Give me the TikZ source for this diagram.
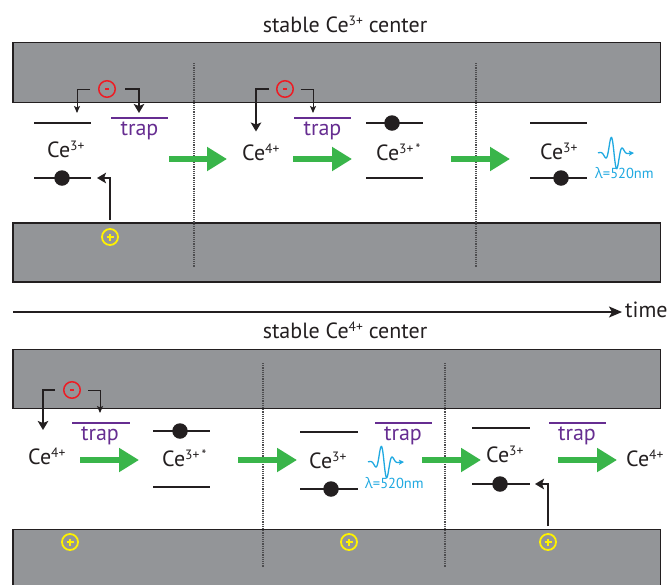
\documentclass[tikz,border=0pt]{standalone}
\usepackage{fontspec}
\setmainfont{PT Sans}
\newfontfamily\grk{Open Sans}
\usetikzlibrary{arrows.meta}
\definecolor{bandgray}{HTML}{939598}
\definecolor{ink}{HTML}{231F20}
\definecolor{sepgray}{HTML}{4D4D4F}
\definecolor{ered}{HTML}{ED1C24}
\definecolor{hyellow}{HTML}{FFF200}
\definecolor{trappurple}{HTML}{662D91}
\definecolor{agreen}{HTML}{39B54A}
\definecolor{wblue}{HTML}{1FA9E1}
\newcommand{\sps}[1]{\raisebox{7pt}{\fontsize{13.5}{14}\selectfont #1}}
\newcommand{\photon}[2]{%
  \draw[wave, -{Stealth[length=5pt,width=5pt,inset=1pt]}]
    plot[domain=0:32, samples=100] ({#1+\x}, {#2 + 18*exp(-((\x-16)/7.5)^2)*sin(30*(\x-16))})
    -- ({#1+36},{#2});}
\tikzset{
  band/.style={fill=bandgray, draw=ink, line width=1.1pt},
  sepline/.style={draw=sepgray, line width=1.1pt, dash pattern=on 1.1pt off 1.1pt},
  level/.style={draw=ink, line width=1.4pt},
  traplvl/.style={draw=trappurple, line width=1.6pt},
  elec/.style={circle, fill=ink, minimum size=15.5pt, inner sep=0pt},
  ecirc/.style={circle, draw=ered, line width=1.5pt, minimum size=16.5pt, inner sep=0pt},
  hcirc/.style={circle, draw=hyellow, line width=1.8pt, minimum size=16pt, inner sep=0pt},
  garrow/.style={draw=agreen, line width=5.5pt, -{Triangle[length=20pt,width=23pt]}},
  thinarr/.style={draw=ink, line width=1pt, -{Stealth[length=7pt,width=6pt,inset=1.5pt]}},
  thickarr/.style={draw=ink, line width=2.6pt, -{Stealth[length=9pt,width=10.5pt,inset=2pt]}},
  timearr/.style={draw=ink, line width=1.5pt, -{Stealth[length=13pt,width=11pt,inset=3pt]}},
  lbl/.style={inner sep=0pt, anchor=base west, font=\fontsize{22}{26}\selectfont, text=ink},
  ttl/.style={inner sep=0pt, anchor=base, font=\fontsize{22}{26}\selectfont, text=ink},
  traptxt/.style={inner sep=0pt, anchor=base, font=\fontsize{22}{26}\selectfont, text=trappurple},
  lamtxt/.style={inner sep=0pt, anchor=base west, font=\fontsize{14.5}{16}\selectfont, text=wblue},
  wave/.style={draw=wblue, line width=1.3pt},
}
\begin{document}
\begin{tikzpicture}[x=1pt,y=-1pt]
\useasboundingbox (0,0) rectangle (668,584);
\fill[white] (0,0) rectangle (668,584);
% ---------- titles and time axis
\node[ttl] (title1) at (345,32) {stable Ce\sps{3+} center};
\node[ttl] (title2) at (345,338) {stable Ce\sps{4+} center};
\coordinate (tl) at (13,312);
\coordinate (te) at (622,312);
\node[lbl] (time) at (625,317) {time};
\draw[timearr] (tl) -- (te);
% ---------- bands
\path[band] (13,42.7) rectangle (660.5,102.5);
\path[band] (13,223) rectangle (660.5,282);
\path[band] (13,349.3) rectangle (660.5,408.3);
\fill[bandgray] (13,529.3) rectangle (660.5,585);
\draw[ink, line width=1.1pt] (13,586) -- (13,529.3) -- (660.5,529.3) -- (660.5,586);
% ---------- separators
\draw[sepline] (194,63) -- (194,267);
\draw[sepline] (476,63) -- (476,267);
\draw[sepline] (263,363) -- (263,567);
\draw[sepline] (445,363) -- (445,567);

% ================= TOP PANEL
% stage 1
\draw[level] (34,123) -- (91,123);
\draw[level] (34,178) -- (91,178);
\node[elec] (t1e) at (62,178) {};
\node[lbl] (t1ce) at (47,157) {Ce\sps{3+}};
\draw[traplvl] (111,118) -- (168,118);
\node[traptxt] (t1trap) at (139.5,135) {trap};
\node[ecirc] (t1m) at (107,89) {};
\draw[ered, line width=1.4pt] ([xshift=-2pt]t1m.center) -- ([xshift=2pt]t1m.center);
\node[hcirc] (t1p) at (110,237) {};
\draw[hyellow, line width=1.6pt] ([xshift=-3.5pt]t1p.center) -- ([xshift=3.5pt]t1p.center)
  ([yshift=-3.5pt]t1p.center) -- ([yshift=3.5pt]t1p.center);
\coordinate (t1a) at (77,113);
\coordinate (t1b) at (139,113);
\coordinate (t1c) at (97,178);
\draw[thinarr] ([xshift=-8pt]t1m.west) -| (t1a);
\draw[thickarr] ([xshift=9pt]t1m.east) -| (t1b);
\draw[thickarr] ([yshift=8pt]t1p.north) |- (t1c);
\draw[garrow] (169,159) -- (227,159);
% stage 2
\node[lbl] (t2ce) at (242,160) {Ce\sps{4+}};
\draw[traplvl] (294,118) -- (351,118);
\node[traptxt] (t2trap) at (322.5,135) {trap};
\node[ecirc] (t2m) at (285,89) {};
\draw[ered, line width=1.4pt] ([xshift=-2pt]t2m.center) -- ([xshift=2pt]t2m.center);
\coordinate (t2a) at (256,131.5);
\coordinate (t2b) at (313,113);
\draw[thickarr] ([xshift=-7pt]t2m.west) -| (t2a);
\draw[thinarr] ([xshift=6.5pt]t2m.east) -| (t2b);
\draw[garrow] (293,159) -- (352,159);
% stage 3
\draw[level] (366,123) -- (423,123);
\draw[level] (366,178) -- (423,178);
\node[elec] (t3e) at (392,123) {};
\node[lbl] (t3ce) at (376,160) {Ce\sps{3+\,*}};
\draw[garrow] (451,159) -- (510,159);
% stage 4
\draw[level] (530,123) -- (587,123);
\draw[level] (530,178) -- (587,178);
\node[elec] (t4e) at (561,178) {};
\node[lbl] (t4ce) at (540,159) {Ce\sps{3+}};
\photon{598}{153}
\node[lamtxt] (t4lam) at (595,178) {{\grk λ}=520nm};

% ================= BOTTOM PANEL
% stage 1
\node[lbl] (b1ce) at (28,464) {Ce\sps{4+}};
\draw[traplvl] (72,423) -- (130,423);
\node[traptxt] (b1trap) at (100,440) {trap};
\node[ecirc] (b1m) at (72,390) {};
\draw[ered, line width=1.4pt] ([xshift=-2pt]b1m.center) -- ([xshift=2pt]b1m.center);
\coordinate (b1a) at (43,430);
\coordinate (b1b) at (100,413);
\draw[thickarr] ([xshift=-8pt]b1m.west) -| (b1a);
\draw[thinarr] ([xshift=7pt]b1m.east) -| (b1b);
\node[hcirc] (b1p) at (70,542) {};
\draw[hyellow, line width=1.6pt] ([xshift=-3.5pt]b1p.center) -- ([xshift=3.5pt]b1p.center)
  ([yshift=-3.5pt]b1p.center) -- ([yshift=3.5pt]b1p.center);
\draw[garrow] (80,460) -- (139,460);
% stage 2
\draw[level] (153,431) -- (210,431);
\draw[level] (153,487) -- (210,487);
\node[elec] (b2e) at (180,431) {};
\node[lbl] (b2ce) at (162,466.5) {Ce\sps{3+\,*}};
\draw[garrow] (238,460) -- (297,460);
% stage 3
\draw[level] (300,432) -- (358,432);
\draw[level] (300,489) -- (358,489);
\node[elec] (b3e) at (331,489) {};
\node[lbl] (b3ce) at (309,468) {Ce\sps{3+}};
\photon{368}{462}
\node[lamtxt] (b3lam) at (365,488) {{\grk λ}=520nm};
\draw[traplvl] (375,423) -- (432,423);
\node[traptxt] (b3trap) at (403,440) {trap};
\node[hcirc] (b2p) at (349,542) {};
\draw[hyellow, line width=1.6pt] ([xshift=-3.5pt]b2p.center) -- ([xshift=3.5pt]b2p.center)
  ([yshift=-3.5pt]b2p.center) -- ([yshift=3.5pt]b2p.center);
\draw[garrow] (422,460) -- (481,460);
% stage 4
\draw[level] (472,428) -- (530,428);
\draw[level] (472,484) -- (530,484);
\node[elec] (b4e) at (500,484) {};
\node[lbl] (b4ce) at (486,462) {Ce\sps{3+}};
\node[hcirc] (b3p) at (548,542) {};
\draw[hyellow, line width=1.6pt] ([xshift=-3.5pt]b3p.center) -- ([xshift=3.5pt]b3p.center)
  ([yshift=-3.5pt]b3p.center) -- ([yshift=3.5pt]b3p.center);
\coordinate (b4a) at (535,484);
\draw[thickarr] ([yshift=7pt]b3p.north) |- (b4a);
\draw[traplvl] (549,423) -- (606,423);
\node[traptxt] (b4trap) at (577,440) {trap};
\draw[garrow] (558,460) -- (617,460);
% stage 5
\node[lbl] (b5ce) at (626,466) {Ce\sps{4+}};
\end{tikzpicture}
\end{document}
